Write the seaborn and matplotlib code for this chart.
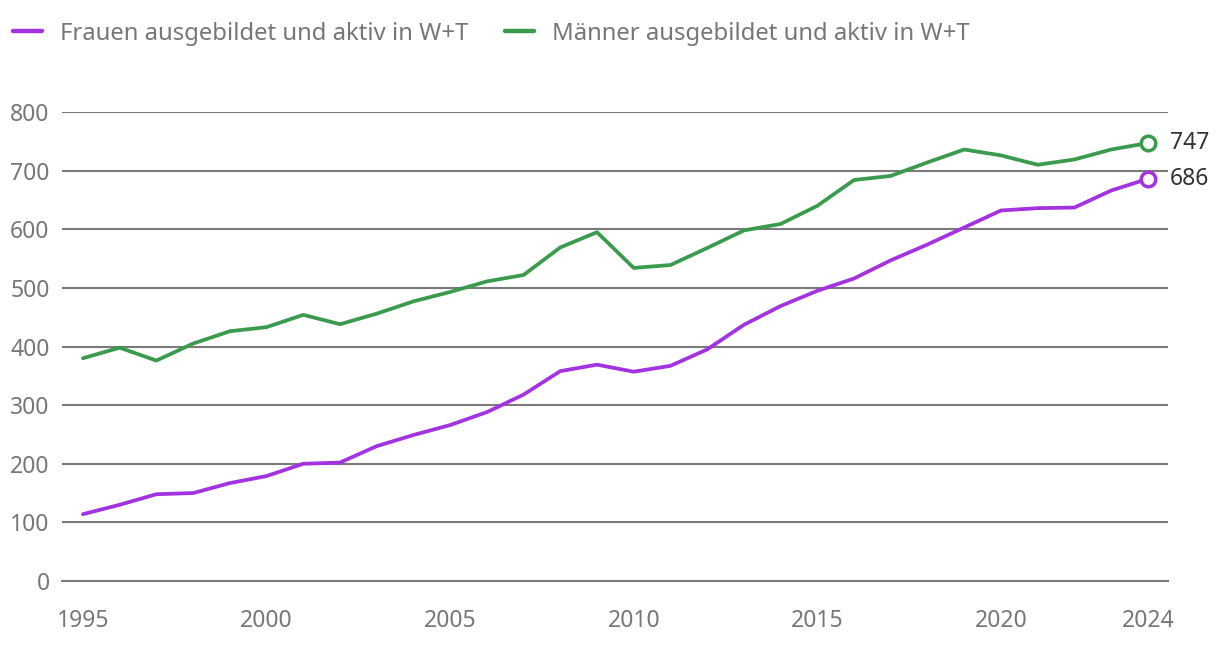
import pandas as pd
import numpy as np
import seaborn as sns
import matplotlib.pyplot as plt

# values (thousands)
years = list(range(1995, 2025))
frauen = [114, 130, 148, 150, 167, 179, 200, 202, 230, 249, 266, 288, 318, 358, 369,
          357, 367, 395, 437, 469, 495, 516, 547, 574, 603, 632, 636, 637, 666, 686]
maenner = [380, 398, 376, 405, 426, 433, 454, 438, 456, 477, 493, 511, 522, 569, 595,
           534, 539, 568, 598, 609, 640, 684, 691, 714, 736, 726, 710, 719, 736, 747]
labels = ['Frauen ausgebildet und aktiv in W+T', 'Männer ausgebildet und aktiv in W+T']
y_ticks = [0, 100, 200, 300, 400, 500, 600, 700, 800]
x_ticks = [1995, 2000, 2005, 2010, 2015, 2020, 2024]

colors = ['#a333e0', '#3a9b4e']

df = pd.DataFrame({
    'Jahr': years * 2,
    'Wert': frauen + maenner,
    'Gruppe': [labels[0]] * len(years) + [labels[1]] * len(years),
})

sns.set_style('white')
plt.rcParams['font.family'] = ['Noto Sans', 'DejaVu Sans']

fig = plt.figure(figsize=(12.2, 6.5), dpi=100)
ax = fig.add_axes([62 / 1220, 69 / 650, (1168 - 62) / 1220, (581 - 112) / 650])

sns.lineplot(data=df, x='Jahr', y='Wert', hue='Gruppe', palette=colors,
             linewidth=2.7, ax=ax, legend=False)

# last value markers and labels
for vals, c in zip([frauen, maenner], colors):
    ax.plot(years[-1], vals[-1], 'o', ms=10.5, mfc='white', mec=c, mew=2.5,
            clip_on=False, zorder=5)
    ax.text(years[-1] + 0.6, vals[-1], str(vals[-1]), fontsize=16.5, color='#333333',
            va='center', ha='left')

ax.set_xlim(1994.43, 2024.55)
ax.set_ylim(0, 800)
ax.set_yticks(y_ticks)
ax.set_xticks(x_ticks)
ax.grid(axis='y', color='#7a7a7a', linewidth=1.5)
ax.grid(axis='x', visible=False)
ax.set_axisbelow(True)
for s in ['top', 'right', 'left']:
    ax.spines[s].set_visible(False)
ax.spines['bottom'].set_color('#7a7a7a')
ax.spines['bottom'].set_linewidth(1.5)
ax.tick_params(axis='x', length=8, width=1.5, color='#7a7a7a', labelsize=16.5,
               labelcolor='#777777', pad=12)
ax.tick_params(axis='y', length=0, labelsize=16.5, labelcolor='#777777', pad=9)
ax.set_xlabel('')
ax.set_ylabel('')

handles = [plt.Line2D([], [], color=c, linewidth=3.2) for c in colors]
fig.legend(handles, labels, loc='upper left', bbox_to_anchor=(-0.007, 1.0), ncol=2,
           frameon=False, fontsize=17.2, labelcolor='#777777', handlelength=1.2,
           handletextpad=0.75, columnspacing=1.55, borderaxespad=0.5)

fig.savefig('out.png', dpi=100)
